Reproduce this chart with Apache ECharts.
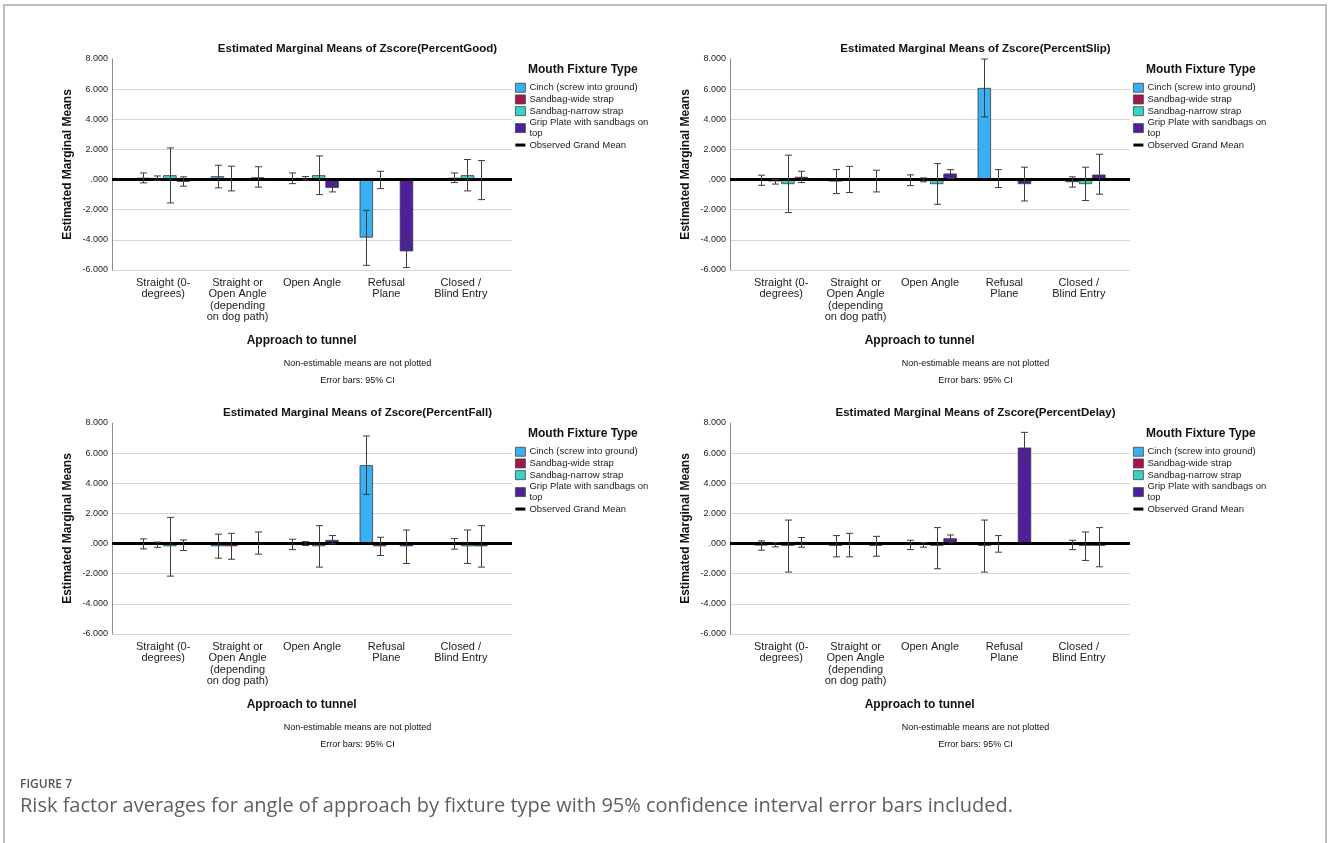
<!DOCTYPE html>
<html>
<head>
<meta charset="utf-8">
<title>Figure 7</title>
<script src="https://cdn.jsdelivr.net/npm/echarts@6/dist/echarts.min.js"></script>
<style>
  html, body { margin: 0; padding: 0; background: #fff; }
  #chart { width: 1328px; height: 843px; }
</style>
</head>
<body>
<div id="chart"></div>
<script>
// ---- data ----
const categories = ['Straight (0-\ndegrees)', 'Straight or\nOpen Angle\n(depending\non dog path)', 'Open Angle', 'Refusal\nPlane', 'Closed /\nBlind Entry'];
const fixtureTypes = ['Cinch (screw into ground)', 'Sandbag-wide strap', 'Sandbag-narrow strap', 'Grip Plate with sandbags on\ntop'];
const grandMeanName = 'Observed Grand Mean';
const yTicks = [-6, -4, -2, 0, 2, 4, 6, 8];
const panelTitles = [
  'Estimated Marginal Means of Zscore(PercentGood)',
  'Estimated Marginal Means of Zscore(PercentSlip)',
  'Estimated Marginal Means of Zscore(PercentFall)',
  'Estimated Marginal Means of Zscore(PercentDelay)'
];
const grandMeans = [0, 0, 0, 0];

// rows: fixture type; columns: approach category (null = non-estimable)
const goodMeans = [
  [0.12, 0.22, 0.10, -3.85, null],
  [0.10, 0.05, 0.05, 0.00, 0.12],
  [0.29, null, 0.29, null, 0.29],
  [-0.15, 0.15, -0.55, -4.76, 0.00]
];
const goodLower = [
  [-0.22, -0.55, -0.27, -5.69, null],
  [-0.04, -0.75, -0.02, -0.60, -0.20],
  [-1.55, null, -1.00, null, -0.75],
  [-0.44, -0.50, -0.82, -5.84, -1.33]
];
const goodUpper = [
  [0.44, 0.95, 0.44, -2.04, null],
  [0.24, 0.89, 0.20, 0.55, 0.44],
  [2.10, null, 1.57, null, 1.33],
  [0.18, 0.85, -0.27, -3.74, 1.26]
];

const slipMeans = [
  [0.00, -0.13, 0.00, 6.08, null],
  [-0.12, 0.00, -0.05, 0.00, -0.17],
  [-0.30, null, -0.30, null, -0.30],
  [0.18, -0.05, 0.40, -0.30, 0.33]
];
const slipLower = [
  [-0.38, -0.93, -0.40, 4.16, null],
  [-0.30, -0.86, -0.15, -0.53, -0.50],
  [-2.19, null, -1.64, null, -1.39],
  [-0.20, -0.82, 0.07, -1.42, -0.97]
];
const slipUpper = [
  [0.29, 0.66, 0.31, 8.00, null],
  [0.00, 0.88, 0.11, 0.66, 0.18],
  [1.62, null, 1.06, null, 0.82],
  [0.55, 0.62, 0.66, 0.82, 1.68]
];

const fallMeans = [
  [0.00, -0.18, 0.00, 5.20, null],
  [-0.05, -0.18, -0.05, -0.18, 0.00],
  [-0.18, null, -0.18, null, -0.18],
  [-0.05, 0.00, 0.24, -0.18, -0.18]
];
const fallLower = [
  [-0.35, -0.97, -0.40, 3.26, null],
  [-0.25, -1.04, -0.13, -0.79, -0.37],
  [-2.16, null, -1.56, null, -1.32],
  [-0.46, -0.70, -0.02, -1.32, -1.56]
];
const fallUpper = [
  [0.31, 0.62, 0.29, 7.14, null],
  [0.10, 0.68, 0.13, 0.42, 0.33],
  [1.74, null, 1.19, null, 0.90],
  [0.24, 0.77, 0.53, 0.90, 1.19]
];

const delayMeans = [
  [-0.13, -0.15, -0.05, -0.15, null],
  [-0.05, 0.00, -0.05, 0.00, 0.00],
  [-0.15, null, -0.15, null, -0.15],
  [0.11, -0.15, 0.35, 6.37, -0.15]
];
const delayLower = [
  [-0.44, -0.88, -0.40, -1.89, null],
  [-0.22, -0.88, -0.24, -0.57, -0.40],
  [-1.89, null, -1.67, null, -1.12],
  [-0.24, -0.84, 0.09, 5.37, -1.54]
];
const delayUpper = [
  [0.18, 0.53, 0.22, 1.56, null],
  [0.07, 0.68, 0.07, 0.53, 0.22],
  [1.56, null, 1.06, null, 0.77],
  [0.40, 0.48, 0.57, 7.38, 1.06]
];

// ---- styling & layout ----
const colors = ['#39b0f2', '#a3174f', '#37d3cb', '#4f209b'];
const FONT = '"Liberation Sans", Arial, sans-serif';
const CAT_GAP = 0.28;          // fraction of each band left empty around a group
const panelData = [
  [goodMeans, goodLower, goodUpper],
  [slipMeans, slipLower, slipUpper],
  [fallMeans, fallLower, fallUpper],
  [delayMeans, delayLower, delayUpper]
];
const offsets = [[0, 0], [618, 0], [0, 364], [618, 364]];
const base = { frameLeft: 112, frameTop: 59, frameW: 400, frameH: 211, barsLeft: 126, barsW: 372 };

const chart = echarts.init(document.getElementById('chart'), null, { renderer: 'canvas' });

const grids = [], xAxes = [], yAxes = [], series = [], legends = [], graphics = [];

const yLabel = v => (v === 0 ? '.000' : v.toFixed(3));

panelData.forEach((pd, p) => {
  const [dx, dy] = offsets[p];
  const [means, lower, upper] = pd;
  const gFrame = grids.length;
  grids.push({ left: base.frameLeft + dx, top: base.frameTop + dy, width: base.frameW, height: base.frameH, containLabel: false });
  grids.push({ left: base.barsLeft + dx, top: base.frameTop + dy, width: base.barsW, height: base.frameH, containLabel: false });
  const gBars = gFrame + 1;

  // frame axes: value x (0..1) for the grand-mean line, visible y scale
  xAxes.push({ gridIndex: gFrame, type: 'value', min: 0, max: 1, show: false });
  yAxes.push({
    gridIndex: gFrame, type: 'value', min: yTicks[0], max: yTicks[yTicks.length - 1], interval: 2,
    axisLine: { show: true, lineStyle: { color: '#8c8c8c', width: 1 } },
    axisTick: { show: false },
    axisLabel: { formatter: yLabel, fontFamily: FONT, fontSize: 9, color: '#222', margin: 4 },
    splitLine: { show: true, showMaxLine: false, lineStyle: { color: '#d6d6d6', width: 1 } },
    name: 'Estimated Marginal Means', nameLocation: 'middle', nameGap: 38, nameRotate: 90,
    nameTextStyle: { fontFamily: FONT, fontSize: 12, fontWeight: 'bold', color: '#111' }
  });

  // bar axes: category x, hidden y with the same scale
  xAxes.push({
    gridIndex: gBars, type: 'category', data: categories, boundaryGap: true,
    axisLine: { show: false }, axisTick: { show: false },
    axisLabel: { interval: 0, fontFamily: FONT, fontSize: 11, lineHeight: 11.5, color: '#222', margin: 7, align: 'center' }
  });
  yAxes.push({ gridIndex: gBars, type: 'value', min: yTicks[0], max: yTicks[yTicks.length - 1], interval: 2, show: false, splitLine: { show: false } });

  const xFrame = xAxes.length - 2, yFrame = yAxes.length - 2;
  const xBars = xAxes.length - 1, yBars = yAxes.length - 1;

  fixtureTypes.forEach((name, s) => {
    series.push({
      type: 'bar', name, xAxisIndex: xBars, yAxisIndex: yBars,
      data: means[s], barGap: '0%', barCategoryGap: (CAT_GAP * 100) + '%',
      itemStyle: { color: colors[s], borderColor: '#3a3a3a', borderWidth: 0.8 },
      z: 2, animation: false
    });
  });

  // 95% CI error bars placed over each bar of the group
  const errData = [];
  fixtureTypes.forEach((_, s) => {
    categories.forEach((_, c) => {
      if (lower[s][c] !== null && upper[s][c] !== null) errData.push([c, lower[s][c], upper[s][c], s]);
    });
  });
  series.push({
    type: 'custom', name: 'ci', xAxisIndex: xBars, yAxisIndex: yBars, z: 5, animation: false,
    silent: true, legendHoverLink: false,
    encode: { x: 0, y: [1, 2] },
    data: errData,
    renderItem: (params, api) => {
      const c = api.value(0), lo = api.value(1), hi = api.value(2), s = api.value(3);
      const center = api.coord([c, 0])[0];
      const band = api.size([1, 0])[0];
      const total = band * (1 - CAT_GAP);
      const bw = total / fixtureTypes.length;
      const x = Math.round(center - total / 2 + (s + 0.5) * bw) + 0.5;
      const yTop = api.coord([c, hi])[1];
      const yBot = api.coord([c, lo])[1];
      const cap = 3.5;
      const st = { stroke: '#3c3c3c', lineWidth: 1 };
      return {
        type: 'group',
        children: [
          { type: 'line', shape: { x1: x, y1: yTop, x2: x, y2: yBot }, style: st },
          { type: 'line', shape: { x1: x - cap, y1: yTop, x2: x + cap, y2: yTop }, style: st },
          { type: 'line', shape: { x1: x - cap, y1: yBot, x2: x + cap, y2: yBot }, style: st }
        ]
      };
    }
  });

  series.push({
    type: 'line', name: grandMeanName, xAxisIndex: xFrame, yAxisIndex: yFrame,
    data: [[0, grandMeans[p]], [1, grandMeans[p]]], symbol: 'none',
    lineStyle: { color: '#000', width: 3 }, itemStyle: { color: '#000' }, z: 4, animation: false
  });

  legends.push({
    orient: 'vertical', left: 515 + dx, top: 82.5 + dy, itemGap: 1.2,
    itemWidth: 10, itemHeight: 9, selectedMode: false, symbolKeepAspect: true,
    itemStyle: { borderWidth: 0.8, borderColor: '#444' },
    data: fixtureTypes.map(n => ({ name: n, icon: 'rect' })).concat([
      { name: grandMeanName, icon: 'path://M0,0H10V3H0Z', itemStyle: { color: '#000', borderWidth: 0 } }
    ]),
    textStyle: { fontFamily: FONT, fontSize: 9.5, lineHeight: 10.5, color: '#222', padding: [0, 0, 0, -1] },
    padding: 0
  });

  const txt = (x, y, text, size, bold, align) => graphics.push({
    type: 'text', x: x + dx, y: y + dy, silent: true,
    style: { text, fill: '#111', font: (bold ? 'bold ' : '') + size + 'px ' + FONT, textAlign: align || 'center', textVerticalAlign: 'middle' }
  });
  txt(357.5, 49, panelTitles[p], 11.5, true);
  txt(528, 69.5, 'Mouth Fixture Type', 12, true, 'left');
  txt(301.7, 341, 'Approach to tunnel', 12, true);
  txt(357.5, 364, 'Non-estimable means are not plotted', 9, false);
  txt(357.5, 381, 'Error bars: 95% CI', 9, false);
});

// figure frame and caption
graphics.push({ type: 'rect', shape: { x: 4, y: 5, width: 1322, height: 860 }, silent: true, style: { fill: 'none', stroke: '#bdbdbd', lineWidth: 2 } });
graphics.push({ type: 'text', x: 20, y: 785, silent: true, style: { text: 'FIGURE 7', fill: '#555', font: '600 12px "Open Sans", sans-serif', textVerticalAlign: 'middle' } });
graphics.push({ type: 'text', x: 20, y: 806, silent: true, style: { text: 'Risk factor averages for angle of approach by fixture type with 95% confidence interval error bars included.', fill: '#5f5f5f', font: '20px "Open Sans", sans-serif', textVerticalAlign: 'middle' } });

chart.setOption({
  animation: false,
  backgroundColor: '#ffffff',
  grid: grids,
  xAxis: xAxes,
  yAxis: yAxes,
  legend: legends,
  series,
  graphic: graphics
});
</script>
</body>
</html>
